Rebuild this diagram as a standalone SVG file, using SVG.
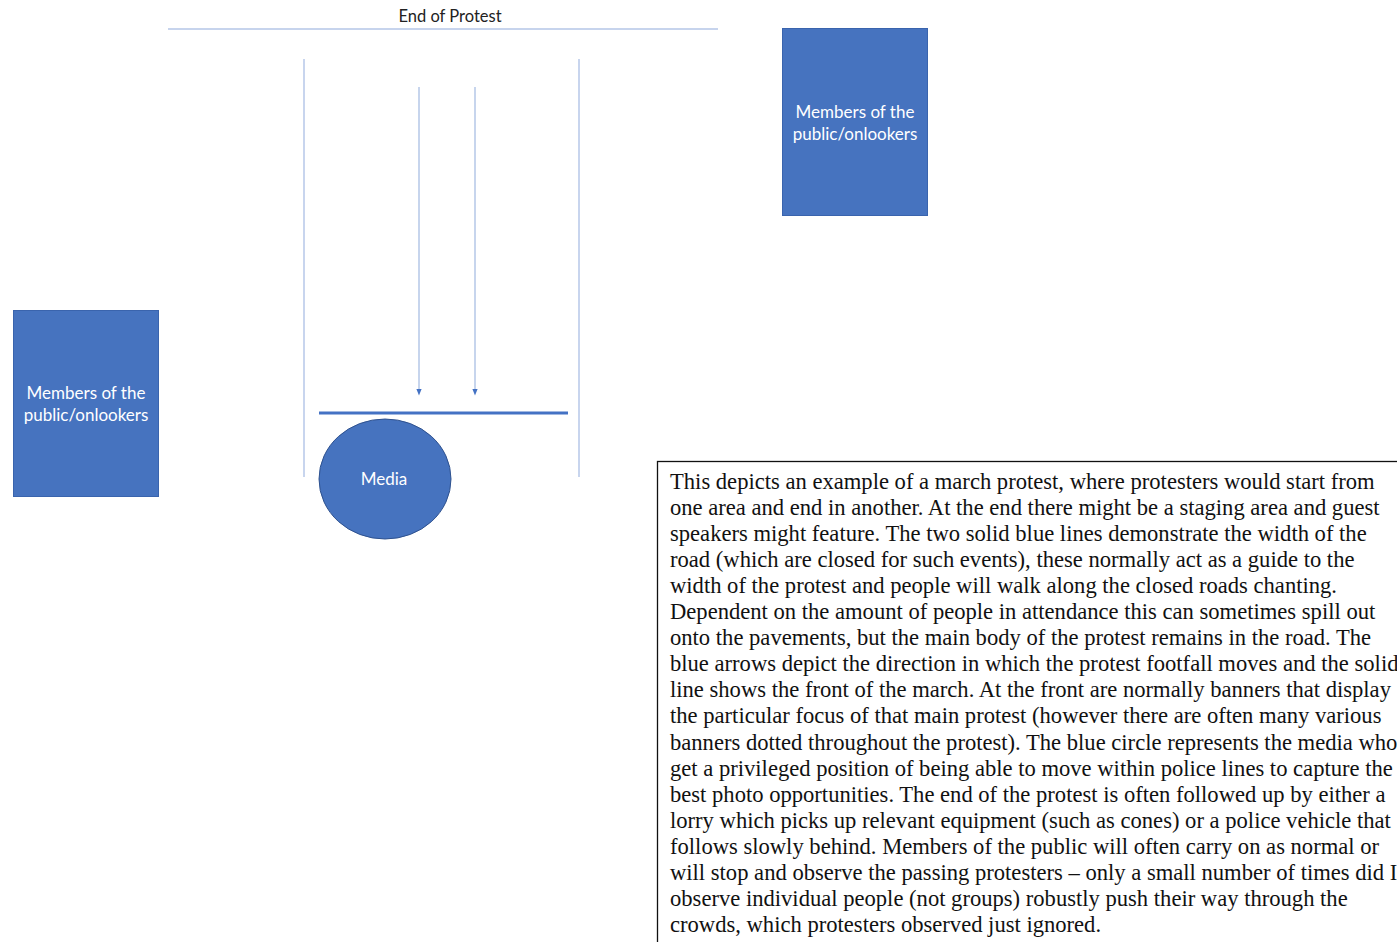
<svg xmlns="http://www.w3.org/2000/svg" width="1397" height="942" viewBox="0 0 1397 942">
  <style>
    .box { fill: #4673bf; stroke: #3a64ad; stroke-width: 1; }
    .boxlabel { font-family: Lato, "Open Sans", sans-serif; font-size: 17px; fill: #ffffff; text-anchor: middle; }
    .road { stroke: #c8d5ee; stroke-width: 2; fill: none; }
    .flow { stroke: #b4c7e7; stroke-width: 1.5; fill: none; marker-end: url(#head); }
    .front { stroke: #4472c4; stroke-width: 3; }
    .note { font-family: "Liberation Serif", "Times New Roman", serif; font-size: 22.6px; fill: #111111; }
  </style>
  <defs>
    <marker id="head" viewBox="0 0 10 10" refX="5" refY="5" markerWidth="7" markerHeight="7" orient="auto" markerUnits="userSpaceOnUse">
      <path d="M0,1 L10,5 L0,9 z" fill="#4472c4"/>
    </marker>
  </defs>
  <rect width="1397" height="942" fill="#ffffff"/>

  <!-- finish line of the march -->
  <g id="end-of-protest">
    <line x1="168" y1="29" x2="718" y2="29" stroke="#8faadc" stroke-width="1.2"/>
    <text x="450" y="22" text-anchor="middle" font-family="Lato, 'Open Sans', sans-serif" font-size="16.5" fill="#222222">End of Protest</text>
  </g>

  <!-- road edges, direction of travel and front of the march -->
  <g id="connectors">
    <line class="road" x1="304" y1="59" x2="304" y2="477"/>
    <line class="road" x1="579" y1="59" x2="579" y2="477"/>
    <line class="flow" x1="419" y1="87" x2="419" y2="392"/>
    <line class="flow" x1="475" y1="87" x2="475" y2="392"/>
    <line class="front" x1="319" y1="413" x2="568" y2="413"/>
  </g>

  <g id="onlookers-left">
    <rect class="box" x="13.5" y="310.5" width="145" height="186"/>
    <text class="boxlabel" x="86" y="399">Members of the</text>
    <text class="boxlabel" x="86" y="421">public/onlookers</text>
  </g>

  <g id="onlookers-right">
    <rect class="box" x="782.5" y="28.5" width="145" height="187"/>
    <text class="boxlabel" x="855" y="118">Members of the</text>
    <text class="boxlabel" x="855" y="140">public/onlookers</text>
  </g>

  <g id="media">
    <ellipse cx="385" cy="479" rx="66" ry="60" fill="#4673bf" stroke="#2f528f" stroke-width="1"/>
    <text class="boxlabel" x="384" y="485">Media</text>
  </g>

  <!-- explanatory note -->
  <g id="description">
    <rect x="657.5" y="461.5" width="760" height="500" fill="#ffffff" stroke="#111111" stroke-width="1.3"/>
    <text class="note" x="670">
      <tspan x="670" y="489">This depicts an example of a march protest, where protesters would start from</tspan>
      <tspan x="670" y="515">one area and end in another. At the end there might be a staging area and guest</tspan>
      <tspan x="670" y="541">speakers might feature. The two solid blue lines demonstrate the width of the</tspan>
      <tspan x="670" y="567">road (which are closed for such events), these normally act as a guide to the</tspan>
      <tspan x="670" y="593">width of the protest and people will walk along the closed roads chanting.</tspan>
      <tspan x="670" y="619">Dependent on the amount of people in attendance this can sometimes spill out</tspan>
      <tspan x="670" y="645">onto the pavements, but the main body of the protest remains in the road. The</tspan>
      <tspan x="670" y="671">blue arrows depict the direction in which the protest footfall moves and the solid</tspan>
      <tspan x="670" y="697">line shows the front of the march. At the front are normally banners that display</tspan>
      <tspan x="670" y="723">the particular focus of that main protest (however there are often many various</tspan>
      <tspan x="670" y="750">banners dotted throughout the protest). The blue circle represents the media who</tspan>
      <tspan x="670" y="776">get a privileged position of being able to move within police lines to capture the</tspan>
      <tspan x="670" y="802">best photo opportunities. The end of the protest is often followed up by either a</tspan>
      <tspan x="670" y="828">lorry which picks up relevant equipment (such as cones) or a police vehicle that</tspan>
      <tspan x="670" y="854">follows slowly behind. Members of the public will often carry on as normal or</tspan>
      <tspan x="670" y="880">will stop and observe the passing protesters – only a small number of times did I</tspan>
      <tspan x="670" y="906">observe individual people (not groups) robustly push their way through the</tspan>
      <tspan x="670" y="932">crowds, which protesters observed just ignored.</tspan>
    </text>
  </g>
</svg>
